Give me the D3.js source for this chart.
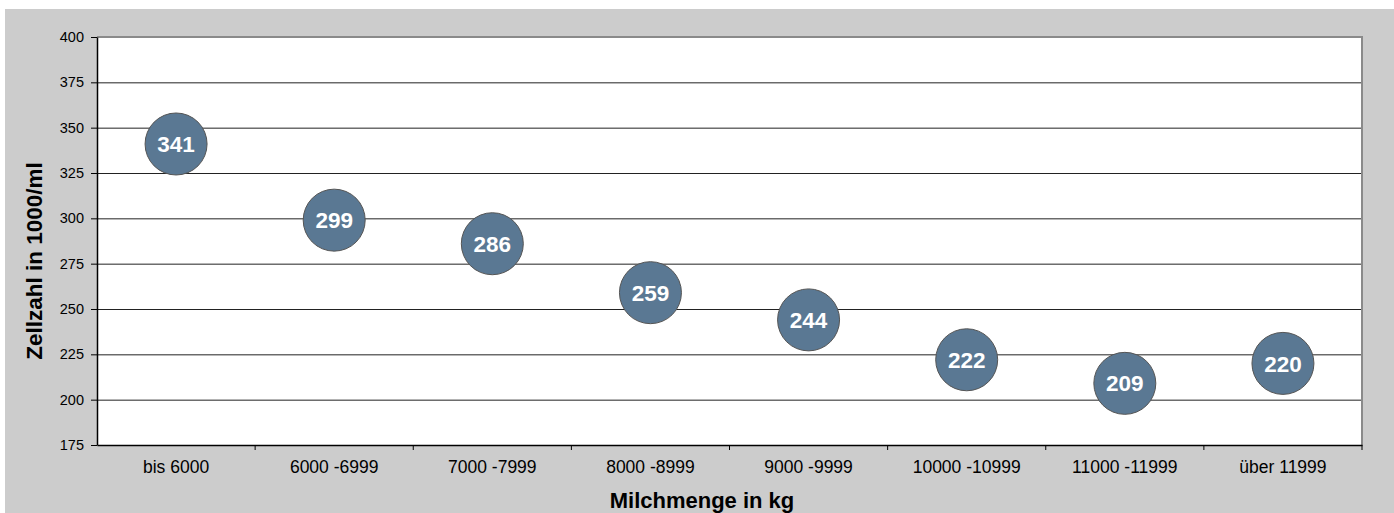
<!DOCTYPE html>
<html lang="de">
<head>
  <meta charset="UTF-8">
  <title>Zellzahl nach Milchmenge</title>
  <style>
    html, body { margin: 0; padding: 0; background: #fff; }
    svg { display: block; font-family: Arial, 'Liberation Sans', sans-serif; }
  </style>
</head>
<body>
  <svg id="chart" width="1394" height="513"></svg>
  <script src="https://cdn.jsdelivr.net/npm/d3@7/dist/d3.min.js"></script>
  <script>
    const categories = ['bis 6000', '6000 -6999', '7000 -7999', '8000 -8999',
      '9000 -9999', '10000 -10999', '11000 -11999', 'über 11999']
    const values = [341, 299, 286, 259, 244, 222, 209, 220]
    const yTicks = [175, 200, 225, 250, 275, 300, 325, 350, 375, 400]

    const svg = d3.select('#chart')
    const margin = { top: 37, left: 97, right: 32, bottom: 68 }
    const width = 1394, height = 513
    const font = 'Arial, Liberation Sans, sans-serif'

    // gray frame
    svg.append('rect')
      .attr('x', 5).attr('y', 9)
      .attr('width', width - 5).attr('height', height - 9)
      .attr('fill', '#cccccc')

    const x = d3.scaleBand()
      .domain(categories)
      .range([margin.left, width - margin.right])

    const y = d3.scaleLinear()
      .domain([175, 400])
      .range([height - margin.bottom, margin.top])

    // plot area
    svg.append('rect')
      .attr('x', margin.left).attr('y', margin.top)
      .attr('width', x.range()[1] - margin.left)
      .attr('height', y(175) - margin.top)
      .attr('fill', '#fff')

    // grid lines
    svg.append('g')
      .selectAll('line')
      .data(yTicks.filter(d => d > 175 && d < 400))
      .enter().append('line')
      .attr('x1', margin.left).attr('x2', x.range()[1])
      .attr('y1', d => y(d) + 0.5).attr('y2', d => y(d) + 0.5)
      .attr('stroke', '#222').attr('stroke-width', 1)

    // top and right border
    svg.append('path')
      .attr('d', `M${margin.left},${margin.top} H${x.range()[1]} V${y(175)}`)
      .attr('fill', 'none').attr('stroke', '#8a8a8a').attr('stroke-width', 2)

    // y axis
    const yAxis = svg.append('g')
      .attr('transform', `translate(${margin.left},0)`)
      .call(d3.axisLeft(y).tickValues(yTicks).tickSize(6).tickPadding(7).tickSizeOuter(0))
    yAxis.select('.domain').attr('stroke', '#000').attr('stroke-width', 1.5)
    yAxis.selectAll('.tick line').attr('stroke', '#000')
    yAxis.selectAll('text').attr('font-size', 14.5).attr('fill', '#000')
      .attr('font-family', font)

    // x axis
    const xAxis = svg.append('g')
      .attr('transform', `translate(0,${y(175)})`)
      .call(d3.axisBottom(x).tickSize(0).tickPadding(16))
    xAxis.select('.domain').attr('stroke', '#000').attr('stroke-width', 1.5)
    xAxis.selectAll('text').attr('font-size', 17.5).attr('fill', '#000')
      .attr('font-family', font)

    // x tick marks at category boundaries
    svg.append('g')
      .selectAll('line')
      .data(categories)
      .enter().append('line')
      .attr('x1', d => x(d) + x.bandwidth()).attr('x2', d => x(d) + x.bandwidth())
      .attr('y1', y(175)).attr('y2', y(175) + 5)
      .attr('stroke', '#000')

    // bubbles
    const pts = svg.append('g')
      .selectAll('g')
      .data(values)
      .enter().append('g')
      .attr('transform', (d, i) => `translate(${x(categories[i]) + x.bandwidth() / 2},${y(d)})`)

    pts.append('circle')
      .attr('r', 31)
      .attr('fill', '#5a7893')
      .attr('stroke', '#555')
      .attr('stroke-width', 1)

    pts.append('text')
      .attr('text-anchor', 'middle')
      .attr('dy', '0.36em')
      .attr('fill', '#fff')
      .attr('font-size', 22.5)
      .attr('font-weight', 'bold')
      .text(d => d)

    // axis titles
    svg.append('text')
      .attr('x', 702)
      .attr('y', 508)
      .attr('text-anchor', 'middle')
      .attr('font-size', 22)
      .attr('font-weight', 'bold')
      .text('Milchmenge in kg')

    svg.append('text')
      .attr('transform', 'translate(42,261) rotate(-90)')
      .attr('text-anchor', 'middle')
      .attr('font-size', 22.5)
      .attr('font-weight', 'bold')
      .text('Zellzahl in 1000/ml')
  </script>
</body>
</html>
